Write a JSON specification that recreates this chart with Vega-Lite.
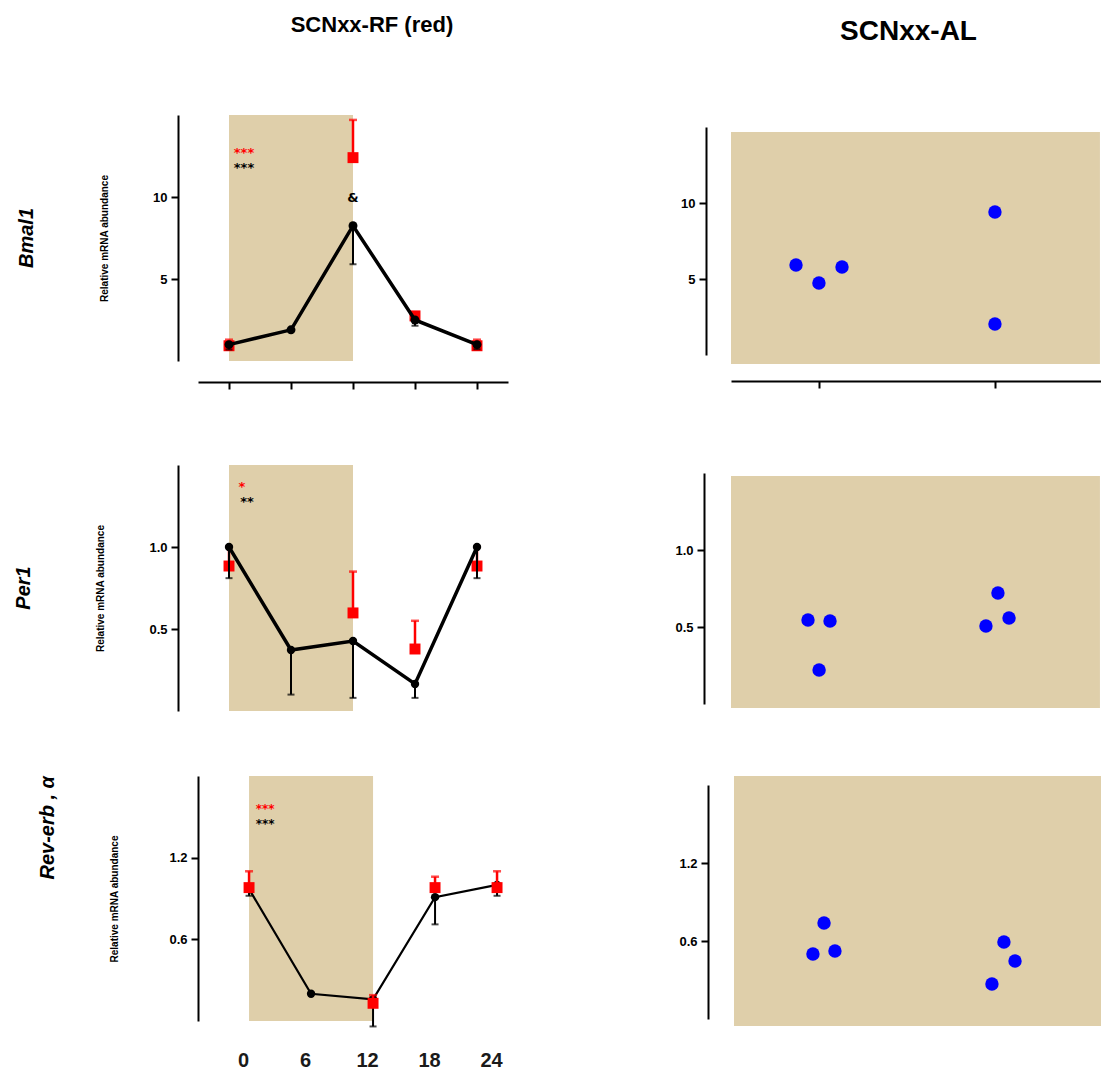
{
  "$schema": "https://vega.github.io/schema/vega-lite/v6.json",
  "padding": {"left": 13, "top": 14, "right": 0, "bottom": 0},
  "background": "white",
  "datasets": {
    "expr": [
      {"gene": "Bmal1", "group": "Control", "time": 0, "value": 1.0, "bound": 0.7},
      {"gene": "Bmal1", "group": "Control", "time": 6, "value": 1.9, "bound": 1.9},
      {"gene": "Bmal1", "group": "Control", "time": 12, "value": 8.25, "bound": 5.9},
      {"gene": "Bmal1", "group": "Control", "time": 18, "value": 2.5, "bound": 2.15},
      {"gene": "Bmal1", "group": "Control", "time": 24, "value": 1.0, "bound": 0.72},
      {"gene": "Bmal1", "group": "SCNxx-RF", "time": 0, "value": 0.93, "bound": 1.3},
      {"gene": "Bmal1", "group": "SCNxx-RF", "time": 12, "value": 12.4, "bound": 14.7},
      {"gene": "Bmal1", "group": "SCNxx-RF", "time": 18, "value": 2.75, "bound": 2.75},
      {"gene": "Bmal1", "group": "SCNxx-RF", "time": 24, "value": 0.93, "bound": 1.3},
      {"gene": "Per1", "group": "Control", "time": 0, "value": 1.0, "bound": 0.81},
      {"gene": "Per1", "group": "Control", "time": 6, "value": 0.372, "bound": 0.1},
      {"gene": "Per1", "group": "Control", "time": 12, "value": 0.427, "bound": 0.08},
      {"gene": "Per1", "group": "Control", "time": 18, "value": 0.165, "bound": 0.08},
      {"gene": "Per1", "group": "Control", "time": 24, "value": 1.0, "bound": 0.81},
      {"gene": "Per1", "group": "SCNxx-RF", "time": 0, "value": 0.884, "bound": 1.0},
      {"gene": "Per1", "group": "SCNxx-RF", "time": 12, "value": 0.598, "bound": 0.85},
      {"gene": "Per1", "group": "SCNxx-RF", "time": 18, "value": 0.378, "bound": 0.55},
      {"gene": "Per1", "group": "SCNxx-RF", "time": 24, "value": 0.884, "bound": 1.0},
      {"gene": "Rev-erbα", "group": "Control", "time": 0, "value": 0.97, "bound": 0.92},
      {"gene": "Rev-erbα", "group": "Control", "time": 6, "value": 0.2, "bound": 0.2},
      {"gene": "Rev-erbα", "group": "Control", "time": 12, "value": 0.16, "bound": -0.04},
      {"gene": "Rev-erbα", "group": "Control", "time": 18, "value": 0.91, "bound": 0.71},
      {"gene": "Rev-erbα", "group": "Control", "time": 24, "value": 1.0, "bound": 0.92},
      {"gene": "Rev-erbα", "group": "SCNxx-RF", "time": 0, "value": 0.98, "bound": 1.1},
      {"gene": "Rev-erbα", "group": "SCNxx-RF", "time": 12, "value": 0.13, "bound": 0.19},
      {"gene": "Rev-erbα", "group": "SCNxx-RF", "time": 18, "value": 0.98, "bound": 1.06},
      {"gene": "Rev-erbα", "group": "SCNxx-RF", "time": 24, "value": 0.98, "bound": 1.1}
    ],
    "notes": [
      {"gene": "Bmal1", "group": "SCNxx-RF", "time": 1.45, "value": 12.68, "label": "***"},
      {"gene": "Bmal1", "group": "Control", "time": 1.45, "value": 11.77, "label": "***"},
      {"gene": "Bmal1", "group": "Control", "time": 12, "value": 9.94, "label": "&"},
      {"gene": "Per1", "group": "SCNxx-RF", "time": 1.26, "value": 1.366, "label": "*"},
      {"gene": "Per1", "group": "Control", "time": 1.74, "value": 1.274, "label": "**"},
      {"gene": "Rev-erbα", "group": "SCNxx-RF", "time": 1.55, "value": 1.555, "label": "***"},
      {"gene": "Rev-erbα", "group": "Control", "time": 1.55, "value": 1.45, "label": "***"}
    ],
    "dark": [
      {"gene": "Bmal1", "time": 0, "time_end": 12},
      {"gene": "Per1", "time": 0, "time_end": 12},
      {"gene": "Rev-erbα", "time": 0, "time_end": 12}
    ],
    "al": [
      {"gene": "Bmal1", "pos": 0.869, "value": 5.92},
      {"gene": "Bmal1", "pos": 0.999, "value": 4.74},
      {"gene": "Bmal1", "pos": 1.13, "value": 5.79},
      {"gene": "Bmal1", "pos": 1.998, "value": 9.41},
      {"gene": "Bmal1", "pos": 1.998, "value": 2.04},
      {"gene": "Per1", "pos": 0.937, "value": 0.545},
      {"gene": "Per1", "pos": 1.062, "value": 0.539},
      {"gene": "Per1", "pos": 1.0, "value": 0.221},
      {"gene": "Per1", "pos": 2.015, "value": 0.721},
      {"gene": "Per1", "pos": 1.947, "value": 0.506},
      {"gene": "Per1", "pos": 2.078, "value": 0.558},
      {"gene": "Rev-erbα", "pos": 1.028, "value": 0.738},
      {"gene": "Rev-erbα", "pos": 0.965, "value": 0.5},
      {"gene": "Rev-erbα", "pos": 1.09, "value": 0.523},
      {"gene": "Rev-erbα", "pos": 2.049, "value": 0.592},
      {"gene": "Rev-erbα", "pos": 2.112, "value": 0.446},
      {"gene": "Rev-erbα", "pos": 1.981, "value": 0.269}
    ],
    "al_bg": [
      {"gene": "Bmal1", "pos": 0.5, "pos_end": 2.594, "lo": -0.59, "hi": 14.67},
      {"gene": "Per1", "pos": 0.5, "pos_end": 2.594, "lo": -0.026, "hi": 1.481},
      {"gene": "Rev-erbα", "pos": 0.517, "pos_end": 2.606, "lo": -0.054, "hi": 1.869}
    ]
  },
  "concat": [
    {
      "title": {"text": "SCNxx-RF (red)", "fontSize": 22, "anchor": "middle", "dx": 111, "offset": 78},
      "columns": 1, "align": "none", "bounds": "full", "spacing": 65,
      "concat": [
        {
          "columns": 1, "align": "none", "bounds": "full", "spacing": 75,
          "concat": [
            {
              "width": 310, "height": 246,
              "title": {"text": "Bmal1", "orient": "left", "anchor": "middle", "frame": "group", "offset": 63, "fontSize": 20, "fontStyle": "italic", "fontWeight": "bold"},
              "encoding": {"x": {"field": "time", "type": "quantitative", "title": null, "scale": {"domain": [-3, 27], "nice": false, "zero": false}, "axis": {"values": [0, 6, 12, 18, 24], "labels": false, "offset": 21}}},
              "layer": [
                {"data": {"name": "dark"}, "transform": [{"filter": "datum.gene === 'Bmal1'"}], "mark": {"type": "rect", "fill": "#DFCFAA"}, "encoding": {"x2": {"field": "time_end"}}},
                {"data": {"name": "expr"}, "transform": [{"filter": "datum.gene === 'Bmal1' && datum.group === 'SCNxx-RF'"}], "mark": {"type": "rule", "color": "#FF0000", "strokeWidth": 2.5}, "encoding": {"y": {"field": "value", "type": "quantitative", "title": "Relative mRNA abundance", "scale": {"domain": [0, 15], "nice": false, "zero": false}, "axis": {"values": [5, 10], "offset": 20, "titlePadding": 43}}, "y2": {"field": "bound"}}},
                {"data": {"name": "expr"}, "transform": [{"filter": "datum.gene === 'Bmal1' && datum.group === 'SCNxx-RF'"}], "mark": {"type": "tick", "orient": "horizontal", "color": "#FF0000", "size": 8, "thickness": 2.5}, "encoding": {"y": {"field": "bound", "type": "quantitative", "title": "Relative mRNA abundance", "scale": {"domain": [0, 15], "nice": false, "zero": false}}}},
                {"data": {"name": "expr"}, "transform": [{"filter": "datum.gene === 'Bmal1' && datum.group === 'SCNxx-RF'"}], "mark": {"type": "point", "shape": "square", "filled": true, "size": 120, "color": "#FF0000", "opacity": 1}, "encoding": {"y": {"field": "value", "type": "quantitative", "title": "Relative mRNA abundance", "scale": {"domain": [0, 15], "nice": false, "zero": false}}}},
                {"data": {"name": "expr"}, "transform": [{"filter": "datum.gene === 'Bmal1' && datum.group === 'Control'"}], "mark": {"type": "line", "color": "#000000", "strokeWidth": 3.5}, "encoding": {"y": {"field": "value", "type": "quantitative", "title": "Relative mRNA abundance", "scale": {"domain": [0, 15], "nice": false, "zero": false}}}},
                {"data": {"name": "expr"}, "transform": [{"filter": "datum.gene === 'Bmal1' && datum.group === 'Control'"}], "mark": {"type": "rule", "color": "#000000", "strokeWidth": 2}, "encoding": {"y": {"field": "value", "type": "quantitative", "title": "Relative mRNA abundance", "scale": {"domain": [0, 15], "nice": false, "zero": false}}, "y2": {"field": "bound"}}},
                {"data": {"name": "expr"}, "transform": [{"filter": "datum.gene === 'Bmal1' && datum.group === 'Control'"}], "mark": {"type": "tick", "orient": "horizontal", "color": "#000000", "size": 7, "thickness": 2}, "encoding": {"y": {"field": "bound", "type": "quantitative", "title": "Relative mRNA abundance", "scale": {"domain": [0, 15], "nice": false, "zero": false}}}},
                {"data": {"name": "expr"}, "transform": [{"filter": "datum.gene === 'Bmal1' && datum.group === 'Control'"}], "mark": {"type": "circle", "size": 80, "color": "#000000", "opacity": 1}, "encoding": {"y": {"field": "value", "type": "quantitative", "title": "Relative mRNA abundance", "scale": {"domain": [0, 15], "nice": false, "zero": false}}}},
                {"data": {"name": "notes"}, "transform": [{"filter": "datum.gene === 'Bmal1'"}], "mark": {"type": "text", "font": "DejaVu Sans", "fontSize": 13, "fontWeight": "bold", "baseline": "middle", "align": "center"}, "encoding": {"y": {"field": "value", "type": "quantitative", "title": "Relative mRNA abundance", "scale": {"domain": [0, 15], "nice": false, "zero": false}}, "text": {"field": "label"}, "color": {"field": "group", "type": "nominal", "scale": {"domain": ["SCNxx-RF", "Control"], "range": ["#FF0000", "#000000"]}, "legend": null}}}
              ]
            },
            {
              "width": 310, "height": 246,
              "title": {"text": "Per1", "orient": "left", "anchor": "middle", "frame": "group", "offset": 62, "fontSize": 20, "fontStyle": "italic", "fontWeight": "bold"},
              "encoding": {"x": {"field": "time", "type": "quantitative", "title": null, "scale": {"domain": [-3, 27], "nice": false, "zero": false}, "axis": null}},
              "layer": [
                {"data": {"name": "dark"}, "transform": [{"filter": "datum.gene === 'Per1'"}], "mark": {"type": "rect", "fill": "#DFCFAA"}, "encoding": {"x2": {"field": "time_end"}}},
                {"data": {"name": "expr"}, "transform": [{"filter": "datum.gene === 'Per1' && datum.group === 'SCNxx-RF'"}], "mark": {"type": "rule", "color": "#FF0000", "strokeWidth": 2.5}, "encoding": {"y": {"field": "value", "type": "quantitative", "title": "Relative mRNA abundance", "scale": {"domain": [0, 1.5], "nice": false, "zero": false}, "axis": {"values": [0.5, 1.0], "format": ".1f", "offset": 20, "titlePadding": 43}}, "y2": {"field": "bound"}}},
                {"data": {"name": "expr"}, "transform": [{"filter": "datum.gene === 'Per1' && datum.group === 'SCNxx-RF'"}], "mark": {"type": "tick", "orient": "horizontal", "color": "#FF0000", "size": 8, "thickness": 2.5}, "encoding": {"y": {"field": "bound", "type": "quantitative", "title": "Relative mRNA abundance", "scale": {"domain": [0, 1.5], "nice": false, "zero": false}}}},
                {"data": {"name": "expr"}, "transform": [{"filter": "datum.gene === 'Per1' && datum.group === 'SCNxx-RF'"}], "mark": {"type": "point", "shape": "square", "filled": true, "size": 120, "color": "#FF0000", "opacity": 1}, "encoding": {"y": {"field": "value", "type": "quantitative", "title": "Relative mRNA abundance", "scale": {"domain": [0, 1.5], "nice": false, "zero": false}}}},
                {"data": {"name": "expr"}, "transform": [{"filter": "datum.gene === 'Per1' && datum.group === 'Control'"}], "mark": {"type": "line", "color": "#000000", "strokeWidth": 3.5}, "encoding": {"y": {"field": "value", "type": "quantitative", "title": "Relative mRNA abundance", "scale": {"domain": [0, 1.5], "nice": false, "zero": false}}}},
                {"data": {"name": "expr"}, "transform": [{"filter": "datum.gene === 'Per1' && datum.group === 'Control'"}], "mark": {"type": "rule", "color": "#000000", "strokeWidth": 2}, "encoding": {"y": {"field": "value", "type": "quantitative", "title": "Relative mRNA abundance", "scale": {"domain": [0, 1.5], "nice": false, "zero": false}}, "y2": {"field": "bound"}}},
                {"data": {"name": "expr"}, "transform": [{"filter": "datum.gene === 'Per1' && datum.group === 'Control'"}], "mark": {"type": "tick", "orient": "horizontal", "color": "#000000", "size": 7, "thickness": 2}, "encoding": {"y": {"field": "bound", "type": "quantitative", "title": "Relative mRNA abundance", "scale": {"domain": [0, 1.5], "nice": false, "zero": false}}}},
                {"data": {"name": "expr"}, "transform": [{"filter": "datum.gene === 'Per1' && datum.group === 'Control'"}], "mark": {"type": "circle", "size": 70, "color": "#000000", "opacity": 1}, "encoding": {"y": {"field": "value", "type": "quantitative", "title": "Relative mRNA abundance", "scale": {"domain": [0, 1.5], "nice": false, "zero": false}}}},
                {"data": {"name": "notes"}, "transform": [{"filter": "datum.gene === 'Per1'"}], "mark": {"type": "text", "font": "DejaVu Sans", "fontSize": 13, "fontWeight": "bold", "baseline": "middle", "align": "center"}, "encoding": {"y": {"field": "value", "type": "quantitative", "title": "Relative mRNA abundance", "scale": {"domain": [0, 1.5], "nice": false, "zero": false}}, "text": {"field": "label"}, "color": {"field": "group", "type": "nominal", "scale": {"domain": ["SCNxx-RF", "Control"], "range": ["#FF0000", "#000000"]}, "legend": null}}}
              ]
            }
          ]
        },
        {
          "width": 310, "height": 245,
          "title": {"text": "Rev-erb , α", "orient": "left", "anchor": "end", "frame": "group", "offset": 52, "fontSize": 20, "fontStyle": "italic", "fontWeight": "bold"},
          "encoding": {"x": {"field": "time", "type": "quantitative", "title": null, "scale": {"domain": [-4.94, 25.06], "nice": false, "zero": false}, "axis": {"values": [0, 6, 12, 18, 24], "domain": false, "ticks": false, "tickSize": 0, "labelPadding": 29, "labelFontSize": 20, "labelOffset": -6, "labelColor": "#1a1a1a"}}},
          "layer": [
            {"data": {"name": "dark"}, "transform": [{"filter": "datum.gene === 'Rev-erbα'"}], "mark": {"type": "rect", "fill": "#DFCFAA"}, "encoding": {"x2": {"field": "time_end"}}},
            {"data": {"name": "expr"}, "transform": [{"filter": "datum.gene === 'Rev-erbα' && datum.group === 'Control'"}], "mark": {"type": "line", "color": "#000000", "strokeWidth": 2.2}, "encoding": {"y": {"field": "value", "type": "quantitative", "title": "Relative mRNA abundance", "scale": {"domain": [0, 1.8], "nice": false, "zero": false}, "axis": {"values": [0.6, 1.2], "format": ".1f", "offset": 0, "titlePadding": 49}}}},
            {"data": {"name": "expr"}, "transform": [{"filter": "datum.gene === 'Rev-erbα' && datum.group === 'Control'"}], "mark": {"type": "rule", "color": "#000000", "strokeWidth": 2}, "encoding": {"y": {"field": "value", "type": "quantitative", "title": "Relative mRNA abundance", "scale": {"domain": [0, 1.8], "nice": false, "zero": false}}, "y2": {"field": "bound"}}},
            {"data": {"name": "expr"}, "transform": [{"filter": "datum.gene === 'Rev-erbα' && datum.group === 'Control'"}], "mark": {"type": "tick", "orient": "horizontal", "color": "#000000", "size": 7, "thickness": 2}, "encoding": {"y": {"field": "bound", "type": "quantitative", "title": "Relative mRNA abundance", "scale": {"domain": [0, 1.8], "nice": false, "zero": false}}}},
            {"data": {"name": "expr"}, "transform": [{"filter": "datum.gene === 'Rev-erbα' && datum.group === 'Control'"}], "mark": {"type": "circle", "size": 70, "color": "#000000", "opacity": 1}, "encoding": {"y": {"field": "value", "type": "quantitative", "title": "Relative mRNA abundance", "scale": {"domain": [0, 1.8], "nice": false, "zero": false}}}},
            {"data": {"name": "expr"}, "transform": [{"filter": "datum.gene === 'Rev-erbα' && datum.group === 'SCNxx-RF'"}], "mark": {"type": "rule", "color": "#FF0000", "strokeWidth": 2.5}, "encoding": {"y": {"field": "value", "type": "quantitative", "title": "Relative mRNA abundance", "scale": {"domain": [0, 1.8], "nice": false, "zero": false}}, "y2": {"field": "bound"}}},
            {"data": {"name": "expr"}, "transform": [{"filter": "datum.gene === 'Rev-erbα' && datum.group === 'SCNxx-RF'"}], "mark": {"type": "tick", "orient": "horizontal", "color": "#FF0000", "size": 8, "thickness": 2.5}, "encoding": {"y": {"field": "bound", "type": "quantitative", "title": "Relative mRNA abundance", "scale": {"domain": [0, 1.8], "nice": false, "zero": false}}}},
            {"data": {"name": "expr"}, "transform": [{"filter": "datum.gene === 'Rev-erbα' && datum.group === 'SCNxx-RF'"}], "mark": {"type": "point", "shape": "square", "filled": true, "size": 120, "color": "#FF0000", "opacity": 1}, "encoding": {"y": {"field": "value", "type": "quantitative", "title": "Relative mRNA abundance", "scale": {"domain": [0, 1.8], "nice": false, "zero": false}}}},
            {"data": {"name": "notes"}, "transform": [{"filter": "datum.gene === 'Rev-erbα'"}], "mark": {"type": "text", "font": "DejaVu Sans", "fontSize": 12, "fontWeight": "bold", "baseline": "middle", "align": "center"}, "encoding": {"y": {"field": "value", "type": "quantitative", "title": "Relative mRNA abundance", "scale": {"domain": [0, 1.8], "nice": false, "zero": false}}, "text": {"field": "label"}, "color": {"field": "group", "type": "nominal", "scale": {"domain": ["SCNxx-RF", "Control"], "range": ["#FF0000", "#000000"]}, "legend": null}}}
          ]
        }
      ]
    },
    {
      "title": {"text": "SCNxx-AL", "fontSize": 28, "anchor": "middle", "dx": 20, "offset": 69},
      "columns": 1, "align": "none", "bounds": "full", "spacing": 67,
      "concat": [
        {
          "columns": 1, "align": "none", "bounds": "full", "spacing": 84,
          "concat": [
            {
              "width": 370, "height": 240,
              "encoding": {"x": {"field": "pos", "type": "quantitative", "title": null, "scale": {"domain": [0.5, 2.6], "nice": false, "zero": false}, "axis": {"values": [1, 2], "labels": false, "offset": 26}}},
              "layer": [
                {"data": {"name": "al_bg"}, "transform": [{"filter": "datum.gene === 'Bmal1'"}], "mark": {"type": "rect", "fill": "#DFCFAA"}, "encoding": {"x2": {"field": "pos_end"}, "y": {"field": "lo", "type": "quantitative", "title": null, "scale": {"domain": [0, 15], "range": [240, 12], "nice": false, "zero": false}, "axis": {"values": [5, 10], "offset": 25}}, "y2": {"field": "hi"}}},
                {"data": {"name": "al"}, "transform": [{"filter": "datum.gene === 'Bmal1'"}], "mark": {"type": "circle", "size": 180, "color": "#0000FF", "opacity": 1}, "encoding": {"y": {"field": "value", "type": "quantitative", "title": null, "scale": {"domain": [0, 15], "range": [240, 12], "nice": false, "zero": false}}}}
              ]
            },
            {
              "width": 370, "height": 231,
              "encoding": {"x": {"field": "pos", "type": "quantitative", "title": null, "scale": {"domain": [0.5, 2.6], "nice": false, "zero": false}, "axis": null}},
              "layer": [
                {"data": {"name": "al_bg"}, "transform": [{"filter": "datum.gene === 'Per1'"}], "mark": {"type": "rect", "fill": "#DFCFAA"}, "encoding": {"x2": {"field": "pos_end"}, "y": {"field": "lo", "type": "quantitative", "title": null, "scale": {"domain": [0, 1.5], "nice": false, "zero": false}, "axis": {"values": [0.5, 1.0], "format": ".1f", "offset": 27}}, "y2": {"field": "hi"}}},
                {"data": {"name": "al"}, "transform": [{"filter": "datum.gene === 'Per1'"}], "mark": {"type": "circle", "size": 180, "color": "#0000FF", "opacity": 1}, "encoding": {"y": {"field": "value", "type": "quantitative", "title": null, "scale": {"domain": [0, 1.5], "nice": false, "zero": false}}}}
              ]
            }
          ]
        },
        {
          "width": 370, "height": 234,
          "encoding": {"x": {"field": "pos", "type": "quantitative", "title": null, "scale": {"domain": [0.5, 2.6], "nice": false, "zero": false}, "axis": null}},
          "layer": [
            {"data": {"name": "al_bg"}, "transform": [{"filter": "datum.gene === 'Rev-erbα'"}], "mark": {"type": "rect", "fill": "#DFCFAA"}, "encoding": {"x2": {"field": "pos_end"}, "y": {"field": "lo", "type": "quantitative", "title": null, "scale": {"domain": [0, 1.8], "nice": false, "zero": false}, "axis": {"values": [0.6, 1.2], "format": ".1f", "offset": 23}}, "y2": {"field": "hi"}}},
            {"data": {"name": "al"}, "transform": [{"filter": "datum.gene === 'Rev-erbα'"}], "mark": {"type": "circle", "size": 180, "color": "#0000FF", "opacity": 1}, "encoding": {"y": {"field": "value", "type": "quantitative", "title": null, "scale": {"domain": [0, 1.8], "nice": false, "zero": false}}}}
          ]
        }
      ]
    }
  ],
  "columns": 2,
  "align": "none",
  "bounds": "full",
  "spacing": 166,
  "config": {
    "view": {"stroke": null},
    "font": "Liberation Sans",
    "axis": {"grid": false, "domainColor": "#000000", "domainWidth": 2, "tickColor": "#000000", "tickWidth": 2, "tickSize": 7, "labelColor": "#000000", "labelFont": "Liberation Sans", "labelFontSize": 13, "labelFontWeight": "bold", "labelPadding": 4, "titleColor": "#000000", "titleFont": "Liberation Sans", "titleFontSize": 10, "titleFontWeight": "bold"},
    "title": {"color": "#000000", "font": "Liberation Sans", "fontWeight": "bold"}
  }
}
